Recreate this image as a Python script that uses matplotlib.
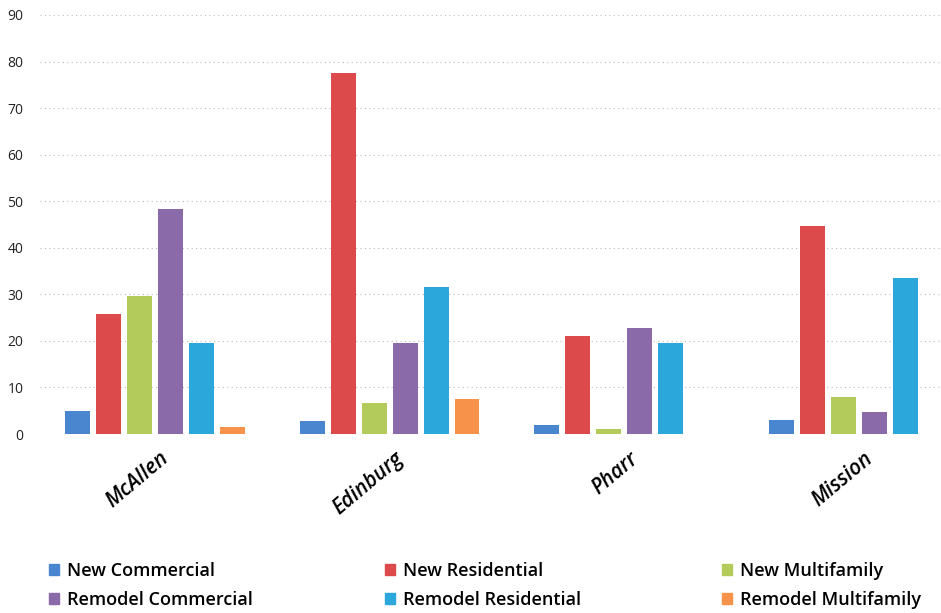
import matplotlib
matplotlib.use("Agg")
import matplotlib.pyplot as plt
import numpy as np
from matplotlib.patches import Patch

cities = ["McAllen", "Edinburg", "Pharr", "Mission"]
series_names = ["New Commercial", "New Residential", "New Multifamily",
                "Remodel Commercial", "Remodel Residential", "Remodel Multifamily"]
new_commercial = [5, 2.8, 2, 2.9]
new_residential = [25.7, 77.5, 21, 44.7]
new_multifamily = [29.6, 6.7, 1, 7.9]
remodel_commercial = [48.3, 19.6, 22.7, 4.8]
remodel_residential = [19.6, 31.6, 19.6, 33.6]
remodel_multifamily = [1.5, 7.5, 0, 0]
yticks = [0, 10, 20, 30, 40, 50, 60, 70, 80, 90]

colors = ["#4a86d0", "#dc4a4c", "#b3cb5a", "#8a6aa8", "#2ba7dc", "#f7924a"]
values = [new_commercial, new_residential, new_multifamily,
          remodel_commercial, remodel_residential, remodel_multifamily]

plt.rcParams['font.family'] = ['Open Sans', 'DejaVu Sans']

fig = plt.figure(figsize=(9.41, 6.13), dpi=100)
ax = fig.add_axes([40/941, 1-434/613, 1-40/941, (434-15)/613])

x = np.arange(len(cities))
step = 0.132
width = 0.106
for i, (vals, c) in enumerate(zip(values, colors)):
    ax.bar(x + (i - 2.5) * step, vals, width=width, color=c, zorder=3)

ax.set_ylim(0, 90)
ax.set_xlim(-0.49, 3.35)
ax.set_yticks(yticks)
ax.set_yticklabels([str(t) for t in yticks], fontsize=10, color="#222222")
ax.yaxis.grid(True, linestyle=(0, (1, 3)), color="#bbbbbb", linewidth=0.8, zorder=0)
ax.tick_params(axis='y', length=0, pad=12)
ax.tick_params(axis='x', length=0, pad=10)
for s in ax.spines.values():
    s.set_visible(False)

ax.set_xticks(x + 0.02)
ax.set_xticklabels(cities, rotation=40, ha='right', rotation_mode='anchor',
                   fontsize=15, fontstyle='italic', fontweight='semibold')

handles = [Patch(facecolor=c, edgecolor=c) for c in colors]
col_x = [40/941, 376/941, 713/941]
for k in range(3):
    hs = [handles[k], handles[k + 3]]
    ls = [series_names[k], series_names[k + 3]]
    fig.legend(hs, ls, loc='upper left', bbox_to_anchor=(col_x[k], 1 - 553/613),
               frameon=False, handlelength=0.55, handleheight=0.55,
               handletextpad=0.45, labelspacing=0.6, borderpad=0,
               prop={'weight': 'semibold', 'size': 13})

fig.savefig("out.png", dpi=100)
